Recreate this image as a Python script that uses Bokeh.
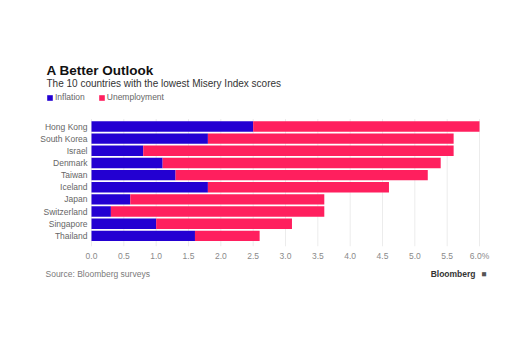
from bokeh.plotting import figure
from bokeh.models import (ColumnDataSource, Range1d, FixedTicker, Label, Title,
                          Legend, LegendItem, CustomJSTickFormatter)
from bokeh.core.properties import value
from bokeh.embed import file_html
from bokeh.resources import INLINE

countries = ["Hong Kong", "South Korea", "Israel", "Denmark", "Taiwan",
             "Iceland", "Japan", "Switzerland", "Singapore", "Thailand"]
inflation = [2.5, 1.8, 0.8, 1.1, 1.3, 1.8, 0.6, 0.3, 1.0, 1.6]
unemployment = [3.5, 3.8, 4.8, 4.3, 3.9, 2.8, 3.0, 3.3, 2.1, 1.0]
x_ticks = [0.0, 0.5, 1.0, 1.5, 2.0, 2.5, 3.0, 3.5, 4.0, 4.5, 5.0, 5.5, 6.0]
series = ["Inflation", "Unemployment"]
colors = ["#2300D2", "#FF1F5E"]

rows = list(range(len(countries)))
source = ColumnDataSource(dict(country=countries, row=rows,
                               Inflation=inflation, Unemployment=unemployment))

FONT = "Liberation Sans"
W, H = 525, 350

# ---- layout geometry (pixels) ----
FRAME_BOTTOM = 246          # canvas y of frame bottom (x axis below)
ZERO_PX, SIX_PX = 91, 479   # canvas x of 0.0 and 6.0
ROW0_PX, ROW_STEP = 126.0, 12.15
ppu = (SIX_PX - ZERO_PX) / 6.0
x_range = Range1d(-ZERO_PX / ppu, (W - ZERO_PX) / ppu)
y_range = Range1d((FRAME_BOTTOM - ROW0_PX) / ROW_STEP, -ROW0_PX / ROW_STEP)

p = figure(width=W, height=H, output_backend="svg", toolbar_location=None,
           x_range=x_range, y_range=y_range, y_axis_location=None,
           min_border_left=0, min_border_right=0, min_border_top=0,
           min_border_bottom=H - FRAME_BOTTOM,
           background_fill_color="white", border_fill_color="white",
           outline_line_color=None)
p.xgrid.visible = False
p.ygrid.visible = False

# vertical grid lines at tick positions, spanning the bar area
p.segment(x0=x_ticks, x1=x_ticks, y0=[-0.62] * len(x_ticks),
          y1=[y_range.start] * len(x_ticks), line_color="#ececec", line_width=1)

renderers = p.hbar_stack(series, y="row", height=0.86, color=colors,
                         line_color=None, source=source)

# country labels (category axis)
p.text(x=0, y="row", text="country", source=source, x_offset=-4,
       text_align="right", text_baseline="middle", text_font=value(FONT),
       text_font_size="8.5px", text_color="#666666")

# x axis
p.xaxis.ticker = FixedTicker(ticks=x_ticks)
p.xaxis.formatter = CustomJSTickFormatter(code="""
    return tick >= 6 ? tick.toFixed(1) + '%' : tick.toFixed(1);
""")
p.xaxis.axis_line_color = None
p.xaxis.major_tick_line_color = None
p.xaxis.minor_tick_line_color = None
p.xaxis.major_tick_out = 0
p.xaxis.major_tick_in = 0
p.xaxis.major_label_text_font = FONT
p.xaxis.major_label_text_font_size = "8.5px"
p.xaxis.major_label_text_color = "#8a8a8a"
p.xaxis.major_label_standoff = 4


def sy(canvas_y):
    return FRAME_BOTTOM - canvas_y


# title / subtitle
p.add_layout(Label(x=46, y=sy(70), x_units="screen", y_units="screen",
                   text="A Better Outlook", text_font=FONT, text_font_size="13.5px",
                   text_font_style="bold", text_color="#111111",
                   text_baseline="alphabetic"))
p.add_layout(Label(x=46, y=sy(83), x_units="screen", y_units="screen",
                   text="The 10 countries with the lowest Misery Index scores",
                   text_font=FONT, text_font_size="10px", text_color="#333333",
                   text_baseline="alphabetic"))

legend = Legend(items=[LegendItem(label=s, renderers=[r]) for s, r in zip(series, renderers)],
                orientation="horizontal", location=(46, sy(102)),
                background_fill_alpha=0, border_line_color=None,
                label_text_font=FONT, label_text_font_size="8.5px",
                label_text_color="#666666", glyph_width=7, glyph_height=7,
                label_standoff=2, spacing=13, padding=0, margin=0,
                label_height=8)
p.add_layout(legend, "center")

# footer: three titles sharing one line
p.add_layout(Title(text="Source: Bloomberg surveys", align="left", offset=45,
                   standoff=11, vertical_align="top",
                   text_font=FONT, text_font_size="8.5px", text_font_style="normal",
                   text_color="#7a7a7a"), "below")
p.add_layout(Title(text="Bloomberg", align="right", offset=50,
                   standoff=-35, vertical_align="top",
                   text_font=FONT, text_font_size="8.5px", text_font_style="bold",
                   text_color="#333333"), "below")
p.add_layout(Title(text="\u25A0", align="right", offset=39,
                   standoff=-35, vertical_align="top",
                   text_font=FONT, text_font_size="8.5px", text_font_style="normal",
                   text_color="#555555"), "below")

open("out.html", "w").write(file_html(p, INLINE))
